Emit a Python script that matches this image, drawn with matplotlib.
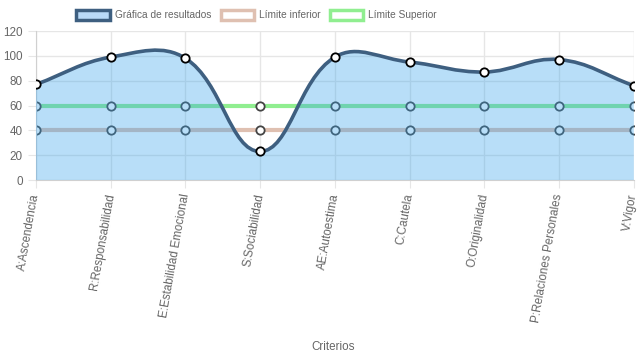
import numpy as np
import matplotlib
matplotlib.use("Agg")
import matplotlib.pyplot as plt
from matplotlib.path import Path
from matplotlib.patches import PathPatch, Patch

# data
criterios = ['A:Ascendencia', 'R:Responsabilidad', 'E:Estabilidad Emocional', 'S:Sociabilidad',
             'AE:Autoestima', 'C:Cautela', 'O:Originalidad', 'P:Relaciones Personales', 'V:Vigor']
resultados = [77, 99, 98, 23, 99, 95, 87, 97, 76]
limite_inferior = [40, 40, 40, 40, 40, 40, 40, 40, 40]
limite_superior = [60, 60, 60, 60, 60, 60, 60, 60, 60]

plt.rcParams['font.family'] = ['Liberation Sans', 'DejaVu Sans']
txt = '#666666'
grid_c = '#e6e6e6'
line_c = '#3e5f80'
fill_c = (54/255, 162/255, 235/255, 0.35)
green = '#90ee90'
pink = '#dfc0b1'

fig = plt.figure(figsize=(6.37, 3.59), dpi=100)
ax = fig.add_axes([0.0565, 0.4986, 0.9385, 0.415])
x = np.arange(len(criterios))
ax.set_xlim(0, len(criterios) - 1)
ax.set_ylim(0, 120)


def spline_path(xs, ys, t=0.4):
    # chart.js style cubic interpolation computed in pixel space
    pts = ax.transData.transform(np.column_stack([xs, ys]))
    n = len(pts)
    verts = [pts[0]]
    codes = [Path.MOVETO]
    cps = []
    for i in range(n):
        prev = pts[i - 1] if i > 0 else pts[i]
        nxt = pts[i + 1] if i < n - 1 else pts[i]
        d01 = np.hypot(*(pts[i] - prev))
        d12 = np.hypot(*(nxt - pts[i]))
        tot = d01 + d12
        s01 = d01 / tot if tot else 0
        s12 = d12 / tot if tot else 0
        cps.append((pts[i] - t * s01 * (nxt - prev), pts[i] + t * s12 * (nxt - prev)))
    for i in range(1, n):
        verts += [cps[i - 1][1], cps[i][0], pts[i]]
        codes += [Path.CURVE4] * 3
    verts = ax.transData.inverted().transform(np.array(verts))
    return verts, codes


fig.canvas.draw()
# limit lines (drawn under the fill)
ax.plot(x, limite_superior, color=green, lw=3, zorder=2)
ax.plot(x, limite_inferior, color=pink, lw=3, zorder=2)
ax.plot(x, limite_superior, 'o', ms=6, mfc='white', mec='#444444', mew=1.3, zorder=2.5)
ax.plot(x, limite_inferior, 'o', ms=6, mfc='white', mec='#444444', mew=1.3, zorder=2.5)

verts, codes = spline_path(x, resultados)
fverts = list(verts) + [[x[-1], 0], [x[0], 0], verts[0]]
fcodes = list(codes) + [Path.LINETO, Path.LINETO, Path.CLOSEPOLY]
ax.add_patch(PathPatch(Path(fverts, fcodes), facecolor=fill_c, edgecolor='none', zorder=3))
ax.add_patch(PathPatch(Path(verts, codes), facecolor='none', edgecolor=line_c, lw=2.6, zorder=4))
ax.plot(x, resultados, 'o', ms=6, mfc='white', mec='black', mew=1.3, zorder=5)

ax.set_yticks(range(0, 121, 20))
ax.set_xticks(x)
ax.set_xticklabels(criterios, rotation=80, ha='right', va='center', rotation_mode='anchor')
ax.tick_params(colors=grid_c, labelcolor=txt, labelsize=8.4, length=6)
ax.tick_params(axis='x', pad=4)
ax.grid(True, color=grid_c, lw=1, zorder=0)
for s in ax.spines.values():
    s.set_visible(False)
ax.spines['left'].set_visible(True)
ax.spines['bottom'].set_visible(True)
ax.spines['left'].set_color('#d0d0d0')
ax.spines['bottom'].set_color('#d0d0d0')
ax.set_axisbelow(True)

fig.text(0.523, 0.033, 'Criterios', ha='center', va='center', color=txt, fontsize=8.4)

handles = [Patch(facecolor=(185/255, 218/255, 248/255), edgecolor=line_c, lw=2.5),
           Patch(facecolor='white', edgecolor=pink, lw=2.5),
           Patch(facecolor='white', edgecolor=green, lw=2.5)]
fig.legend(handles, ['Gráfica de resultados', 'Límite inferior', 'Límite Superior'],
           loc='center', bbox_to_anchor=(0.403, 0.958), ncol=3, frameon=False,
           handlelength=3.3, handleheight=1.1, handletextpad=0.5, columnspacing=0.9,
           labelcolor=txt, fontsize=7.3)

fig.savefig('out.png', dpi=100)
